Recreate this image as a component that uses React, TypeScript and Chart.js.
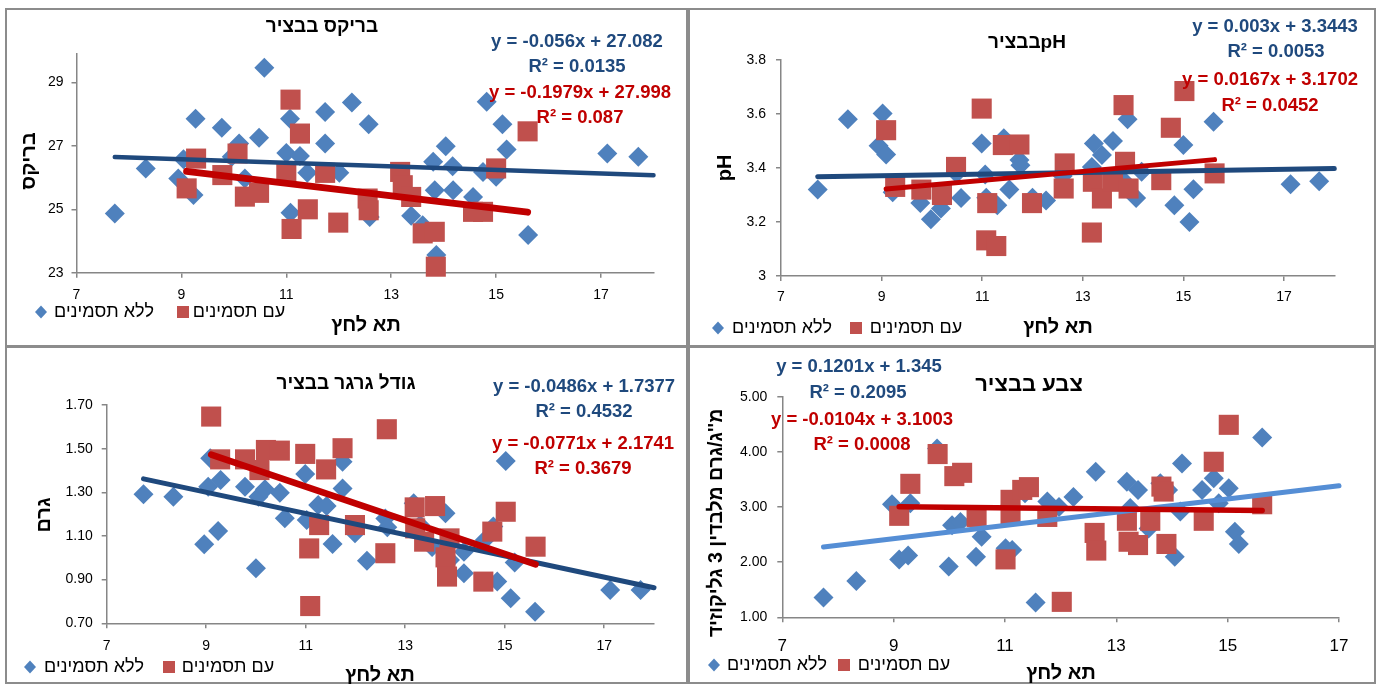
import React, { useEffect, useRef } from 'react';
import { Chart, registerables } from 'chart.js';

Chart.register(...registerables);

const FONT = "'Liberation Sans', Arial, sans-serif";
const BLUE_MARK = '#4F81BD';
const RED_MARK = '#C0504D';
const BLUE_EQ = '#1F497D';
const RED_EQ = '#C00000';
const AXIS = '#868686';

const LEGEND_NO = 'ללא תסמינים';
const LEGEND_YES = 'עם תסמינים';
const X_TITLE = 'תא לחץ';

// ---------- Panel 1: Brix ----------
const brixTitle = 'בריקס בבציר';
const brixYTitle = 'בריקס';
const brixNoX = [7.73, 8.32, 8.94, 9.04, 9.23, 9.27, 9.77, 9.96, 10.1, 10.21, 10.48, 10.58, 11.0, 11.07, 11.08, 11.26, 11.4, 11.74, 11.74, 12.01, 12.25, 12.57, 12.59, 13.38, 13.6, 13.8, 13.83, 13.86, 14.04, 14.17, 14.18, 14.56, 14.75, 14.82, 15.0, 15.12, 15.2, 15.61, 17.12, 17.71];
const brixNoY = [24.87, 26.29, 25.97, 26.58, 25.45, 27.86, 27.57, 26.66, 27.08, 25.97, 27.26, 29.47, 26.78, 27.86, 24.89, 26.68, 26.15, 28.07, 27.08, 26.15, 28.37, 27.68, 24.76, 24.8, 24.5, 26.5, 25.6, 23.56, 26.99, 26.36, 25.6, 25.39, 26.18, 28.39, 26.03, 27.68, 26.89, 24.19, 26.76, 26.66];
const brixYesX = [9.1, 9.28, 9.78, 10.07, 10.21, 10.48, 11.0, 11.08, 11.1, 11.26, 11.41, 11.74, 11.99, 12.55, 12.57, 13.17, 13.22, 13.38, 13.6, 13.83, 13.85, 14.56, 14.75, 15.0, 15.6];
const brixYesY = [25.66, 26.6, 26.08, 26.76, 25.4, 25.52, 26.15, 28.46, 24.38, 27.39, 25.0, 26.15, 24.58, 25.34, 24.97, 26.18, 25.76, 25.39, 24.24, 24.29, 23.19, 24.92, 24.92, 26.29, 27.46];
const brixXTicks = [7, 9, 11, 13, 15, 17];
const brixYTicks = [23, 25, 27, 29];
const brixFitNo = { slope: -0.056, intercept: 27.082, from: 7.73, to: 18 };
const brixFitYes = { slope: -0.1979, intercept: 27.998, from: 9.1, to: 15.6 };
const brixEq = ['y = -0.056x + 27.082', 'R² = 0.0135', 'y = -0.1979x + 27.998', 'R² = 0.087'];

// ---------- Panel 2: pH ----------
const phTitle = 'pHבבציר';
const phYTitle = 'pH';
const phNoX = [7.73, 8.33, 8.94, 9.02, 9.09, 9.22, 9.77, 9.98, 10.18, 10.49, 10.58, 10.99, 11.06, 11.08, 11.3, 11.43, 11.54, 11.74, 11.76, 12.0, 12.27, 12.6, 13.18, 13.22, 13.38, 13.6, 13.83, 13.89, 14.06, 14.17, 14.82, 15.0, 15.12, 15.2, 15.6, 17.13, 17.7];
const phNoY = [3.32, 3.581, 3.482, 3.602, 3.45, 3.31, 3.27, 3.21, 3.25, 3.38, 3.289, 3.491, 3.376, 3.29, 3.262, 3.51, 3.32, 3.43, 3.41, 3.29, 3.28, 3.37, 3.404, 3.491, 3.448, 3.5, 3.35, 3.581, 3.289, 3.386, 3.262, 3.485, 3.2, 3.321, 3.571, 3.34, 3.351];
const phYesX = [9.09, 9.27, 9.79, 10.2, 10.48, 10.99, 11.08, 11.1, 11.28, 11.41, 11.74, 11.99, 12.62, 12.64, 13.18, 13.2, 13.38, 13.6, 13.81, 13.84, 13.91, 14.56, 14.75, 15.02, 15.62];
const phYesY = [3.54, 3.33, 3.32, 3.3, 3.404, 3.62, 3.132, 3.27, 3.111, 3.485, 3.487, 3.27, 3.324, 3.417, 3.161, 3.349, 3.287, 3.349, 3.633, 3.423, 3.324, 3.355, 3.549, 3.685, 3.38];
const phXTicks = [7, 9, 11, 13, 15, 17];
const phYTicks = [3, 3.2, 3.4, 3.6, 3.8];
const phFitNo = { slope: 0.003, intercept: 3.3443, from: 7.73, to: 18 };
const phFitYes = { slope: 0.0167, intercept: 3.1702, from: 9.09, to: 15.62 };
const phEq = ['y = 0.003x + 3.3443', 'R² = 0.0053', 'y = 0.0167x + 3.1702', 'R² = 0.0452'];

// ---------- Panel 3: berry size ----------
const sizeTitle = 'גודל גרגר בבציר';
const sizeYTitle = 'גרם';
const sizeNoX = [7.74, 8.34, 8.96, 9.04, 9.08, 9.24, 9.29, 9.78, 10.0, 10.05, 10.18, 10.48, 10.58, 10.99, 11.02, 11.25, 11.42, 11.54, 11.74, 11.74, 11.99, 12.23, 12.6, 12.64, 13.17, 13.3, 13.54, 13.81, 13.9, 14.18, 14.18, 14.6, 14.77, 14.85, 15.02, 15.12, 15.2, 15.61, 17.12, 17.73];
const sizeNoY = [1.291, 1.28, 1.062, 1.326, 1.456, 1.123, 1.356, 1.326, 0.952, 1.28, 1.314, 1.298, 1.181, 1.384, 1.173, 1.242, 1.237, 1.063, 1.44, 1.318, 1.112, 0.987, 1.18, 1.14, 1.25, 1.15, 1.05, 1.204, 0.99, 1.028, 0.929, 1.082, 1.143, 0.891, 1.444, 0.815, 0.978, 0.753, 0.853, 0.853];
const sizeYesX = [9.1, 9.28, 9.78, 10.07, 10.2, 10.48, 10.99, 11.07, 11.09, 11.27, 11.41, 11.74, 11.99, 12.6, 12.63, 13.19, 13.2, 13.38, 13.6, 13.81, 13.84, 13.89, 14.57, 14.75, 15.02, 15.62];
const sizeYesY = [1.647, 1.451, 1.451, 1.402, 1.494, 1.491, 1.476, 1.043, 0.779, 1.15, 1.405, 1.502, 1.15, 1.021, 1.589, 1.231, 1.135, 1.074, 1.237, 1.002, 0.914, 1.089, 0.891, 1.12, 1.211, 1.051];
const sizeXTicks = [7, 9, 11, 13, 15, 17];
const sizeYTicks = [0.7, 0.9, 1.1, 1.3, 1.5, 1.7];
const sizeFitNo = { slope: -0.0486, intercept: 1.7377, from: 7.74, to: 18 };
const sizeFitYes = { slope: -0.0771, intercept: 2.1741, from: 9.1, to: 15.62 };
const sizeEq = ['y = -0.0486x + 1.7377', 'R² = 0.4532', 'y = -0.0771x + 2.1741', 'R² = 0.3679'];

// ---------- Panel 4: colour ----------
const colorTitle = 'צבע בבציר';
const colorYTitle = "מ''ג/גרם מלבדין 3 גליקוזיד";
const colorNoX = [7.74, 8.33, 8.97, 9.1, 9.26, 9.3, 9.78, 9.99, 10.05, 10.2, 10.48, 10.58, 11.01, 11.13, 11.36, 11.55, 11.76, 11.97, 12.23, 12.63, 13.19, 13.25, 13.39, 13.58, 13.79, 13.93, 14.05, 14.15, 14.18, 14.54, 14.75, 14.84, 15.02, 15.13, 15.2, 15.62];
const colorNoY = [1.36, 1.66, 3.05, 2.05, 2.12, 3.07, 4.06, 1.92, 2.67, 2.73, 2.1, 2.46, 2.25, 2.22, 3.25, 1.27, 3.1, 3.0, 3.18, 3.64, 3.46, 2.98, 3.31, 2.61, 3.43, 3.31, 2.1, 2.92, 3.79, 3.31, 3.52, 3.07, 3.34, 2.55, 2.33, 4.26];
const colorYesX = [9.1, 9.3, 9.79, 10.09, 10.23, 10.49, 11.01, 11.1, 11.1, 11.31, 11.43, 11.76, 12.02, 12.61, 12.64, 13.19, 13.22, 13.39, 13.61, 13.81, 13.85, 13.9, 14.57, 14.75, 15.02, 15.62];
const colorYesY = [2.84, 3.42, 3.96, 3.56, 3.62, 2.82, 2.05, 3.13, 2.86, 3.31, 3.36, 2.82, 1.28, 2.53, 2.21, 2.75, 2.37, 2.31, 2.75, 3.37, 3.28, 2.33, 2.75, 3.82, 4.49, 3.05];
const colorXTicks = [7, 9, 11, 13, 15, 17];
const colorYTicks = [1, 2, 3, 4, 5];
const colorFitNo = { slope: 0.1201, intercept: 1.345, from: 7.74, to: 17 };
const colorFitYes = { slope: -0.0104, intercept: 3.1003, from: 9.1, to: 15.62 };
const colorEq = ['y = 0.1201x + 1.345', 'R² = 0.2095', 'y = -0.0104x + 3.1003', 'R² = 0.0008'];

type Fit = { slope: number; intercept: number; from: number; to: number };
type TextItem = { t: string; x: number; y: number; font: string; color: string; rot?: boolean; rtl?: boolean };

const pts = (xs: number[], ys: number[]) => xs.map((x, i) => ({ x, y: ys[i] }));
const fitPts = (f: Fit) => [f.from, f.to].map((x) => ({ x, y: f.slope * x + f.intercept }));

type PanelCfg = {
  box: { left: number; top: number; w: number; h: number };
  plot: { L: number; R: number; T: number; B: number };
  xMin: number; xMax: number; yMin: number; yMax: number;
  xTicks: number[]; yTicks: number[];
  yFmt: (v: number) => string;
  xFont: number; yFont: number; xPad: number; yPad: number;
  noX: number[]; noY: number[]; yesX: number[]; yesY: number[];
  fitNo: Fit; fitYes: Fit;
  blueLine: string; blueW: number; redW: number;
  texts: TextItem[];
  legend: { dx: number; sx: number; y: number };
};

const bold = (s: number) => `bold ${s}px ${FONT}`;
const reg = (s: number) => `${s}px ${FONT}`;

function stdTexts(
  title: string, titlePos: [number, number], titleSize: number,
  eq: string[], eqPos: [number, number][],
  yTitle: string, yTitlePos: [number, number], yTitleSize: number,
  xTitlePos: [number, number],
  legNo: [number, number], legYes: [number, number]
): TextItem[] {
  return [
    { t: title, x: titlePos[0], y: titlePos[1], font: bold(titleSize), color: '#000', rtl: true },
    { t: eq[0], x: eqPos[0][0], y: eqPos[0][1], font: bold(18.5), color: BLUE_EQ },
    { t: eq[1], x: eqPos[1][0], y: eqPos[1][1], font: bold(18.5), color: BLUE_EQ },
    { t: eq[2], x: eqPos[2][0], y: eqPos[2][1], font: bold(18.5), color: RED_EQ },
    { t: eq[3], x: eqPos[3][0], y: eqPos[3][1], font: bold(18.5), color: RED_EQ },
    { t: yTitle, x: yTitlePos[0], y: yTitlePos[1], font: bold(yTitleSize), color: '#000', rot: true, rtl: true },
    { t: X_TITLE, x: xTitlePos[0], y: xTitlePos[1], font: bold(20), color: '#000', rtl: true },
    { t: LEGEND_NO, x: legNo[0], y: legNo[1], font: reg(18), color: '#000', rtl: true },
    { t: LEGEND_YES, x: legYes[0], y: legYes[1], font: reg(18), color: '#000', rtl: true },
  ];
}

const PANELS: PanelCfg[] = [
  {
    box: { left: 5, top: 8, w: 683, h: 339 },
    plot: { L: 76.5, R: 653.5, T: 54, B: 272.7 },
    xMin: 7, xMax: 18, yMin: 23, yMax: 29.9,
    xTicks: brixXTicks, yTicks: brixYTicks, yFmt: (v) => String(v),
    xFont: 14, yFont: 14, xPad: 9, yPad: 8,
    noX: brixNoX, noY: brixNoY, yesX: brixYesX, yesY: brixYesY,
    fitNo: brixFitNo, fitYes: brixFitYes,
    blueLine: '#1F497D', blueW: 4.5, redW: 7,
    texts: stdTexts(brixTitle, [322, 27], 19, brixEq, [[577, 42], [577, 67], [580, 93], [580, 118]],
      brixYTitle, [29, 161], 20, [366, 325], [104, 312], [239, 312]),
    legend: { dx: 41, sx: 183, y: 312 },
  },
  {
    box: { left: 688, top: 8, w: 688, h: 339 },
    plot: { L: 781, R: 1334.3, T: 60, B: 276 },
    xMin: 7, xMax: 18, yMin: 3, yMax: 3.8,
    xTicks: phXTicks, yTicks: phYTicks, yFmt: (v) => (v === 3 ? '3' : v.toFixed(1)),
    xFont: 14, yFont: 14, xPad: 8, yPad: 10,
    noX: phNoX, noY: phNoY, yesX: phYesX, yesY: phYesY,
    fitNo: phFitNo, fitYes: phFitYes,
    blueLine: '#1F497D', blueW: 5, redW: 5,
    texts: stdTexts(phTitle, [1027, 43], 19, phEq, [[1275, 27], [1276, 52], [1270, 80], [1270, 106]],
      phYTitle, [725, 168], 20, [1058, 327], [782, 328], [916, 328]),
    legend: { dx: 718, sx: 856, y: 328 },
  },
  {
    box: { left: 5, top: 346, w: 683, h: 338 },
    plot: { L: 106.7, R: 654, T: 405, B: 623.3 },
    xMin: 7, xMax: 18, yMin: 0.7, yMax: 1.7,
    xTicks: sizeXTicks, yTicks: sizeYTicks, yFmt: (v) => v.toFixed(2),
    xFont: 14, yFont: 14, xPad: 9, yPad: 9,
    noX: sizeNoX, noY: sizeNoY, yesX: sizeYesX, yesY: sizeYesY,
    fitNo: sizeFitNo, fitYes: sizeFitYes,
    blueLine: '#1F497D', blueW: 5, redW: 6.5,
    texts: stdTexts(sizeTitle, [346, 384], 19, sizeEq, [[584, 387], [584, 412], [583, 444], [583, 469]],
      sizeYTitle, [44, 515], 20, [380, 675], [94, 667], [228, 667]),
    legend: { dx: 30, sx: 169, y: 667 },
  },
  {
    box: { left: 688, top: 346, w: 688, h: 338 },
    plot: { L: 782.3, R: 1339, T: 396.7, B: 617.3 },
    xMin: 7, xMax: 17, yMin: 1, yMax: 5,
    xTicks: colorXTicks, yTicks: colorYTicks, yFmt: (v) => v.toFixed(2),
    xFont: 17, yFont: 14, xPad: 14, yPad: 10,
    noX: colorNoX, noY: colorNoY, yesX: colorYesX, yesY: colorYesY,
    fitNo: colorFitNo, fitYes: colorFitYes,
    blueLine: '#558ED5', blueW: 5, redW: 5.5,
    texts: stdTexts(colorTitle, [1029, 385], 22, colorEq, [[859, 367], [858, 393], [862, 420], [862, 445]],
      colorYTitle, [717, 523], 19.5, [1061, 673], [777, 665], [904, 665]),
    legend: { dx: 714, sx: 844, y: 665 },
  },
];

function Panel({ cfg }: { cfg: PanelCfg }) {
  const ref = useRef<HTMLCanvasElement | null>(null);
  useEffect(() => {
    const canvas = ref.current;
    if (!canvas) return;
    const { box, plot } = cfg;
    const offX = box.left;
    const offY = box.top;
    const textPlugin = {
      id: 'panelTexts',
      afterDraw(chart: any) {
        const ctx = chart.ctx as CanvasRenderingContext2D;
        for (const it of cfg.texts) {
          ctx.save();
          ctx.translate(it.x - offX, it.y - offY);
          if (it.rot) ctx.rotate(-Math.PI / 2);
          ctx.font = it.font;
          ctx.fillStyle = it.color;
          ctx.textAlign = 'center';
          ctx.textBaseline = 'middle';
          (ctx as any).direction = it.rtl ? 'rtl' : 'ltr';
          ctx.fillText(it.t, 0, 0);
          ctx.restore();
        }
        // legend symbols
        ctx.save();
        const dx = cfg.legend.dx - offX;
        const sx = cfg.legend.sx - offX;
        const ly = cfg.legend.y - offY;
        ctx.fillStyle = BLUE_MARK;
        ctx.beginPath();
        ctx.moveTo(dx, ly - 6.5);
        ctx.lineTo(dx + 6, ly);
        ctx.lineTo(dx, ly + 6.5);
        ctx.lineTo(dx - 6, ly);
        ctx.closePath();
        ctx.fill();
        ctx.fillStyle = RED_MARK;
        ctx.fillRect(sx - 6, ly - 6, 12, 12);
        ctx.restore();
      },
    };
    const mkTicks = (vals: number[]) => (axis: any) => {
      axis.ticks = vals.map((v) => ({ value: v }));
    };
    const chart = new Chart(canvas, {
      type: 'scatter',
      data: {
        datasets: [
          {
            data: fitPts(cfg.fitYes), showLine: true, borderColor: RED_EQ, borderWidth: cfg.redW,
            pointRadius: 0, borderCapStyle: 'round', fill: false, clip: false,
          } as any,
          {
            data: fitPts(cfg.fitNo), showLine: true, borderColor: cfg.blueLine, borderWidth: cfg.blueW,
            pointRadius: 0, borderCapStyle: 'round', fill: false, clip: false,
          } as any,
          {
            data: pts(cfg.yesX, cfg.yesY), pointStyle: 'rect', pointRadius: 14.2,
            backgroundColor: RED_MARK, borderWidth: 0, clip: false,
          } as any,
          {
            data: pts(cfg.noX, cfg.noY), pointStyle: 'rectRot', pointRadius: 10,
            backgroundColor: BLUE_MARK, borderWidth: 0, clip: false,
          } as any,
        ],
      },
      options: {
        animation: false,
        responsive: false,
        events: [],
        layout: {
          padding: {
            left: 0,
            top: plot.T - box.top,
            right: box.left + box.w - plot.R,
            bottom: 0,
          },
        },
        plugins: { legend: { display: false }, tooltip: { enabled: false }, title: { display: false } },
        scales: {
          x: {
            type: 'linear', min: cfg.xMin, max: cfg.xMax,
            afterBuildTicks: mkTicks(cfg.xTicks),
            afterFit: (s: any) => { s.height = box.top + box.h - plot.B; },
            ticks: {
              autoSkip: false, maxRotation: 0, padding: cfg.xPad, color: '#000',
              font: { family: FONT, size: cfg.xFont }, callback: (v: any) => String(v),
            },
            grid: { drawOnChartArea: false, drawTicks: true, tickLength: 5, color: AXIS, lineWidth: 1.5 },
            border: { display: true, color: AXIS, width: 1.5 },
          },
          y: {
            type: 'linear', min: cfg.yMin, max: cfg.yMax,
            afterBuildTicks: mkTicks(cfg.yTicks),
            afterFit: (s: any) => { s.width = plot.L - box.left; },
            ticks: {
              autoSkip: false, padding: cfg.yPad, color: '#000',
              font: { family: FONT, size: cfg.yFont }, callback: (v: any) => cfg.yFmt(Number(v)),
            },
            grid: { drawOnChartArea: false, drawTicks: true, tickLength: 5, color: AXIS, lineWidth: 1.5 },
            border: { display: true, color: AXIS, width: 1.5 },
          },
        },
      } as any,
      plugins: [textPlugin],
    });
    return () => chart.destroy();
  }, [cfg]);
  const { box } = cfg;
  return (
    <>
      <div
        style={{
          position: 'absolute', left: box.left, top: box.top, width: box.w, height: box.h,
          border: '2px solid #8c8c8c', boxSizing: 'border-box', background: '#fff',
        }}
      />
      <canvas
        ref={ref}
        width={box.w}
        height={box.h}
        style={{ position: 'absolute', left: box.left, top: box.top, width: box.w, height: box.h }}
      />
    </>
  );
}

export default function App() {
  return (
    <div
      style={{
        position: 'absolute', left: 0, top: 0, width: 1378, height: 684,
        overflow: 'hidden', background: '#fff',
      }}
    >
      {PANELS.map((p, i) => (
        <Panel key={i} cfg={p} />
      ))}
    </div>
  );
}
